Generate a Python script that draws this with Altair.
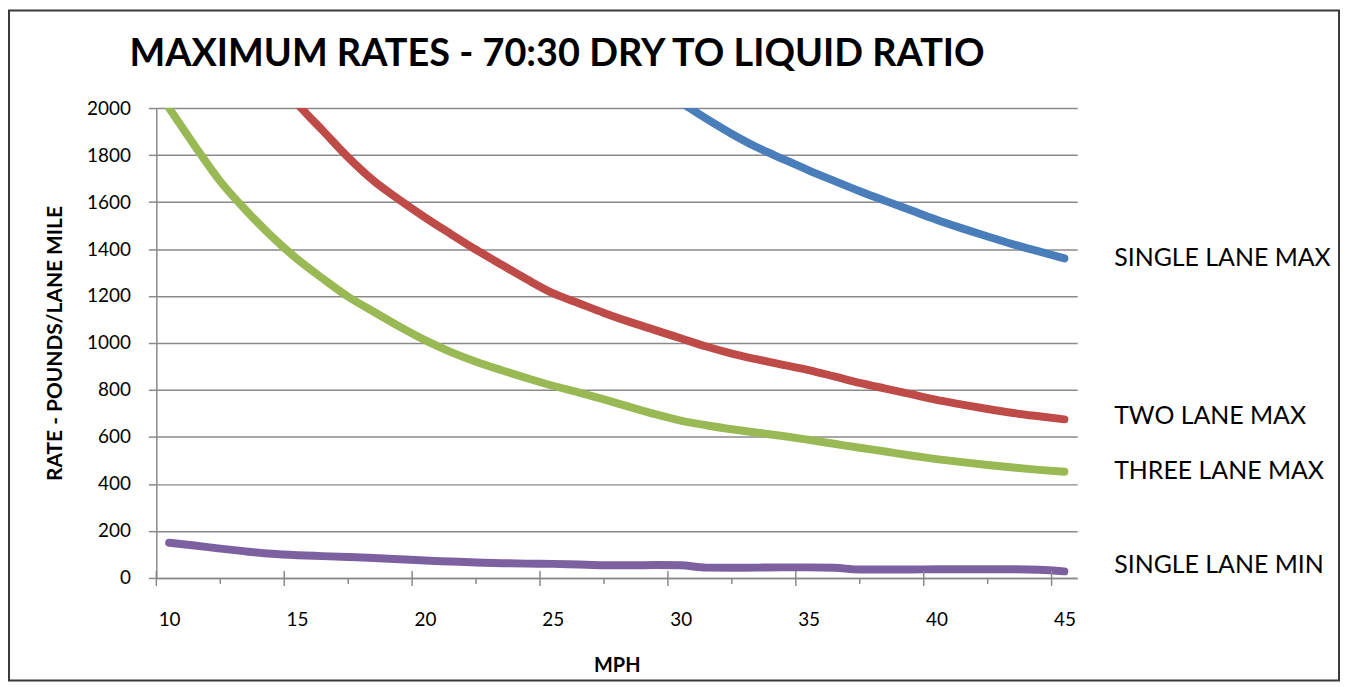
import altair as alt
import pandas as pd

# ---------------- data ----------------
mph = list(range(10, 46))

single_lane_max = [None] * 19 + [2100, 2025, 1955, 1890, 1832, 1783, 1735, 1690, 1646,
                                 1605, 1565, 1525, 1488, 1453, 1420, 1390, 1360]
two_lane_max = [None] * 4 + [2160, 2020, 1905, 1790, 1690, 1610, 1535, 1465, 1397, 1333,
                             1270, 1212, 1170, 1128, 1090, 1055, 1020, 985, 955, 930,
                             907, 885, 858, 830, 806, 782, 758, 738, 719, 702, 688, 675]
three_lane_max = [2000, 1840, 1688, 1565, 1455, 1358, 1275, 1197, 1133, 1070, 1012, 962,
                  920, 884, 850, 818, 790, 760, 728, 697, 670, 650, 633, 618, 604, 588,
                  571, 554, 538, 521, 506, 493, 481, 470, 460, 452]
single_lane_min = [150, 138, 125, 113, 103, 97, 93, 89, 85, 80, 74, 70, 66, 63, 61, 60,
                   57, 54, 54, 55, 54, 44, 43, 44, 45, 45, 43, 36, 36, 36, 37, 37, 37,
                   37, 35, 28]

series_names = ["SINGLE LANE MAX", "TWO LANE MAX", "THREE LANE MAX", "SINGLE LANE MIN"]
series_colors = ["#4A7EBB", "#BE4B48", "#98B954", "#7D60A0"]
label_dy = [0, -3, -1, -6]

x_label_values = [10, 15, 20, 25, 30, 35, 40, 45]
y_tick_values = [0, 200, 400, 600, 800, 1000, 1200, 1400, 1600, 1800, 2000]
major_ticks = [9.5, 14.5, 19.5, 24.5, 29.5, 34.5, 39.5, 44.5]
minor_ticks = [12, 17, 22, 27, 32, 37, 42]

title_text = "MAXIMUM RATES - 70:30 DRY TO LIQUID RATIO"
x_title = "MPH"
y_title = "RATE - POUNDS/LANE MILE"

# ---------------- tables ----------------
rows = []
for name, vals in zip(series_names, [single_lane_max, two_lane_max, three_lane_max, single_lane_min]):
    for x, v in zip(mph, vals):
        if v is not None:
            rows.append({"series": name, "mph": x, "rate": v})
df = pd.DataFrame(rows)

W, H = 925, 472
GRID = "#8a8a8a"
FONT = "Lato"

xs = alt.Scale(domain=[9.5, 45.5], nice=False, zero=False)
ys = alt.Scale(domain=[0, 2000], nice=False)
cs = alt.Scale(domain=series_names, range=series_colors)

x_axis = alt.Axis(
    values=x_label_values, ticks=False, tickSize=0, grid=False, title=x_title, format="d",
    labelPadding=33, labelFont=FONT, labelFontSize=19, labelColor="#000000",
    domainColor=GRID, domainWidth=1.5,
    titleFont=FONT, titleFontSize=20, titleFontWeight="bold", titleColor="#000000",
    titleY=94, titleBaseline="alphabetic")
y_axis = alt.Axis(
    values=y_tick_values, tickSize=8, tickColor=GRID, tickWidth=1.5, format="d",
    labelPadding=18, labelFont=FONT, labelFontSize=19, labelColor="#000000",
    domainColor=GRID, domainWidth=1.5, grid=True, gridColor=GRID, gridWidth=1.5,
    title=y_title, titleFont=FONT, titleFontSize=21, titleFontWeight="bold",
    titleColor="#000000", titleX=-95, titleY=236, titleBaseline="alphabetic")

X = alt.X("mph:Q", scale=xs, axis=x_axis, title=x_title)
Y = alt.Y("rate:Q", scale=ys, axis=y_axis, title=y_title)

lines = alt.Chart(df).mark_line(
    strokeWidth=8, strokeCap="round", strokeJoin="round", interpolate="monotone", clip=True
).encode(
    x=X, y=Y,
    color=alt.Color("series:N", scale=cs, legend=None),
)

major_df = pd.DataFrame({"mph": major_ticks})
minor_df = pd.DataFrame({"mph": minor_ticks})
major = alt.Chart(major_df).mark_rule(color=GRID, strokeWidth=1.5).encode(
    x=X, y=alt.value(H - 7), y2=alt.value(H + 8))
minor = alt.Chart(minor_df).mark_rule(color=GRID, strokeWidth=1.5).encode(
    x=X, y=alt.value(H), y2=alt.value(H + 6))

end_df = df.sort_values("mph").groupby("series", as_index=False).last()
labels = []
for name, dy in zip(series_names, label_dy):
    labels.append(
        alt.Chart(end_df[end_df["series"] == name]).mark_text(
            align="left", baseline="middle", dx=50, dy=dy, font=FONT, fontSize=25, color="#000000"
        ).encode(x=X, y=Y, text="series:N")
    )

title = alt.Chart(pd.DataFrame({"t": [title_text]})).mark_text(
    align="left", baseline="alphabetic", font=FONT, fontSize=38, fontWeight="bold", color="#000000"
).encode(x=alt.value(-27), y=alt.value(-42), text="t:N")

frame = alt.Chart(pd.DataFrame({"f": [1]})).mark_rect(
    fillOpacity=0, stroke="#3a3a3a", strokeWidth=2
).encode(x=alt.value(-148), x2=alt.value(1188), y=alt.value(-98), y2=alt.value(575))

chart = alt.layer(lines, major, minor, *labels, title, frame).properties(
    width=W, height=H,
    autosize=alt.AutoSizeParams(type="none"),
    padding={"left": 149, "top": 99, "right": 268, "bottom": 104},
    background="white",
).configure_view(stroke=None)

chart.save("out.html", embed_options={"renderer": "svg", "actions": False})
